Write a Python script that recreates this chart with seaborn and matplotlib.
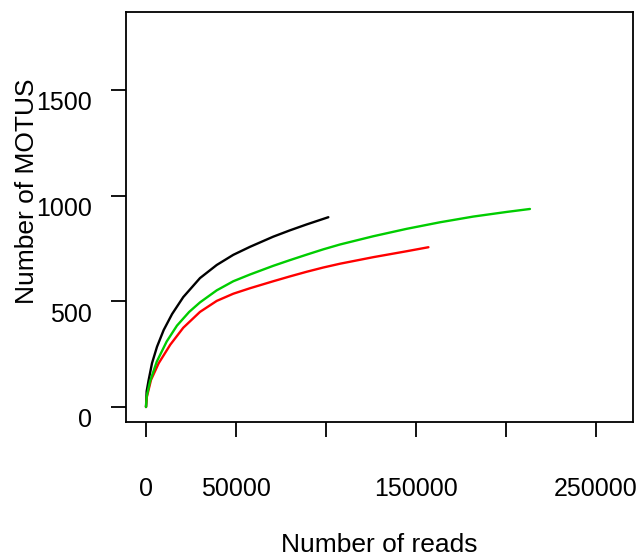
import matplotlib
matplotlib.use("Agg")
import matplotlib.pyplot as plt
import matplotlib.transforms as mtransforms
import pandas as pd
import seaborn as sns

sns.set_theme(style="white")
plt.rcParams["font.family"] = ["Liberation Sans", "DejaVu Sans"]

# Courbes de raréfaction
black_reads = [0, 370, 1480, 3330, 6110, 9815, 14500, 20700, 30000, 39300, 48500,
               57800, 70700, 80000, 89300, 101300]
black_motus = [0, 75, 128, 207, 285, 364, 440, 520, 610, 672, 720,
               758, 806, 836, 864, 898]
red_reads = [0, 400, 2780, 7040, 13500, 20700, 30000, 39300, 48500, 57800, 70700,
             80000, 89300, 98500, 107800, 126300, 144800, 156900]
red_motus = [0, 45, 128, 207, 295, 375, 450, 502, 536, 562, 595,
             618, 640, 660, 678, 709, 737, 756]
green_reads = [0, 400, 2200, 6000, 11500, 17200, 24000, 30000, 39300, 48500, 57800,
               70700, 80000, 89300, 98500, 107800, 126300, 144800, 163300, 181800,
               200400, 213300]
green_motus = [0, 50, 120, 215, 310, 385, 450, 495, 552, 595, 627,
               668, 695, 721, 746, 769, 808, 843, 874, 901,
               923, 937]

x_ticks = [0, 50000, 100000, 150000, 200000, 250000]
x_tick_labels = ["0", "50000", "", "150000", "", "250000"]
y_ticks = [0, 500, 1000, 1500]

df = pd.concat([
    pd.DataFrame({"reads": black_reads, "motus": black_motus, "sample": "black"}),
    pd.DataFrame({"reads": red_reads, "motus": red_motus, "sample": "red"}),
    pd.DataFrame({"reads": green_reads, "motus": green_motus, "sample": "green"}),
])
palette = {"black": "#000000", "red": "#ff0000", "green": "#00cd00"}

fig = plt.figure(figsize=(6.44, 5.58), dpi=100)
ax = fig.add_axes([126 / 644, 1 - 422 / 558, 507 / 644, 410 / 558])
sns.lineplot(data=df, x="reads", y="motus", hue="sample", palette=palette,
             sort=False, estimator=None, linewidth=1.7, legend=False, ax=ax)
for ln in ax.get_lines():
    ln.set_solid_joinstyle("round")

ax.set_xlim(-11111, 270556)
ax.set_ylim(-71, 1869)
ax.set_xticks(x_ticks)
ax.set_xticklabels(x_tick_labels)
ax.set_yticks(y_ticks)
ax.tick_params(axis="both", direction="out", length=10.8, width=1.3, color="black",
               labelsize=18, labelcolor="black")
ax.tick_params(axis="x", pad=29)
ax.tick_params(axis="y", pad=13.5)
ax.tick_params(left=True, bottom=True)
for s in ax.spines.values():
    s.set_visible(True)
    s.set_color("black")
    s.set_linewidth(1.3)

# les étiquettes de l'axe y sont décalées vers le bas
shift = mtransforms.ScaledTranslation(0, -0.11, fig.dpi_scale_trans)
for lab in ax.get_yticklabels():
    lab.set_transform(lab.get_transform() + shift)

ax.set_xlabel("Number of reads", fontsize=19, color="black")
ax.set_ylabel("Number of MOTUS", fontsize=19, color="black")
ax.xaxis.set_label_coords(0.5, -0.30)
ax.yaxis.set_label_coords(-0.195, 0.563)
ax.yaxis.label.set_verticalalignment("center")
ax.xaxis.label.set_verticalalignment("center")

fig.savefig("out.png", dpi=100)
